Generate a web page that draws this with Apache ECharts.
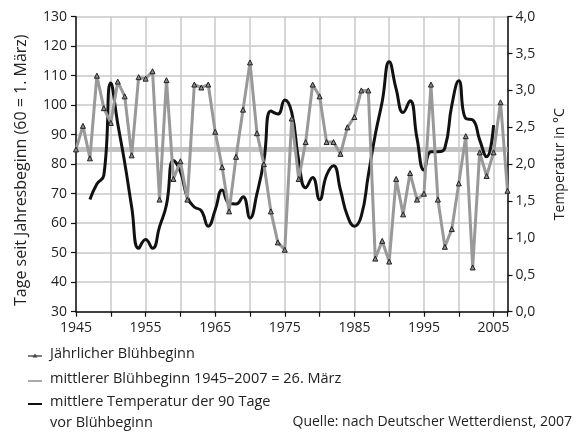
<!DOCTYPE html>
<html>
<head>
<meta charset="utf-8">
<script src="https://cdn.jsdelivr.net/npm/echarts@6/dist/echarts.min.js"></script>
<style>
  html, body { margin: 0; padding: 0; background: #fff; }
  #chart { width: 576px; height: 436px; }
</style>
</head>
<body>
<div id="chart"></div>
<script>
'use strict';
/* Blühbeginn und Temperatur 1945-2007 */

var years = [1945, 1946, 1947, 1948, 1949, 1950, 1951, 1952, 1953, 1954,
  1955, 1956, 1957, 1958, 1959, 1960, 1961, 1962, 1963, 1964,
  1965, 1966, 1967, 1968, 1969, 1970, 1971, 1972, 1973, 1974,
  1975, 1976, 1977, 1978, 1979, 1980, 1981, 1982, 1983, 1984,
  1985, 1986, 1987, 1988, 1989, 1990, 1991, 1992, 1993, 1994,
  1995, 1996, 1997, 1998, 1999, 2000, 2001, 2002, 2003, 2004,
  2005, 2006, 2007];

// Jährlicher Blühbeginn (Tage seit Jahresbeginn)
var bloomDays = [85, 93, 82, 110, 99, 94, 108, 103, 83, 109.5,
  109, 111.5, 68, 108.5, 75, 81, 68, 107, 106, 107,
  91, 79, 64, 82.5, 98.5, 114.5, 90.5, 80, 64, 53.5,
  51, 95.5, 75, 87.5, 107, 103, 87.5, 87.5, 83.5, 92.5,
  96, 105, 105, 48, 54, 47, 75, 63, 77, 68,
  70, 107, 68, 52, 58, 73.5, 89.5, 45, 84, 76,
  84, 101, 71];

// mittlerer Blühbeginn 1945-2007
var meanBloom = 85;

// mittlere Temperatur der 90 Tage vor Blühbeginn, 1947-2005
var tempYears = [1947, 1948, 1949, 1950, 1951, 1952, 1953, 1954, 1955, 1956,
  1957, 1958, 1959, 1960, 1961, 1962, 1963, 1964, 1965, 1966,
  1967, 1968, 1969, 1970, 1971, 1972, 1973, 1974, 1975, 1976,
  1977, 1978, 1979, 1980, 1981, 1982, 1983, 1984, 1985, 1986,
  1987, 1988, 1989, 1990, 1991, 1992, 1993, 1994, 1995, 1996,
  1997, 1998, 1999, 2000, 2001, 2002, 2003, 2004, 2005];
var tempValues = [1.52, 1.73, 1.85, 3.10, 2.55, 2.02, 1.42, 0.86, 0.98, 0.86,
  1.15, 1.45, 2.05, 1.90, 1.55, 1.42, 1.37, 1.16, 1.38, 1.65,
  1.47, 1.46, 1.56, 1.27, 1.60, 2.05, 2.72, 2.68, 2.87, 2.70,
  2.05, 1.68, 1.82, 1.52, 1.85, 1.98, 1.65, 1.30, 1.16, 1.30,
  1.85, 2.40, 2.85, 3.39, 3.02, 2.70, 2.86, 2.35, 1.92, 2.17,
  2.17, 2.22, 2.80, 3.13, 2.62, 2.60, 2.33, 2.10, 2.53];

var legendLabels = ['Jährlicher Blühbeginn', 'mittlerer Blühbeginn 1945–2007 = 26. März',
  'mittlere Temperatur der 90 Tage', 'vor Blühbeginn'];
var sourceLabel = 'Quelle: nach Deutscher Wetterdienst, 2007';

var bloomData = [];
for (var i = 0; i < years.length; i++) {
  bloomData.push([years[i], bloomDays[i]]);
}
var tempData = [];
for (var j = 0; j < tempYears.length; j++) {
  tempData.push([tempYears[j], tempValues[j]]);
}
// horizontal mean line over the full year range
var meanData = [[years[0], meanBloom], [years[years.length - 1], meanBloom]];

var font = 'Open Sans';
var chart = echarts.init(document.getElementById('chart'), null, { renderer: 'canvas' });

var option = {
  animation: false,
  backgroundColor: '#fff',
  textStyle: { fontFamily: font },
  grid: { left: 76, right: 68.5, top: 16.7, bottom: 124.3 },
  xAxis: {
    type: 'value',
    min: 1945,
    max: 2007,
    interval: 5,
    axisLine: { onZero: false, lineStyle: { color: '#111', width: 1.5 } },
    axisTick: { length: 5, lineStyle: { color: '#111', width: 1.2 } },
    axisLabel: {
      color: '#222', fontSize: 14, margin: 9, fontFamily: font,
      formatter: function(v) { return (v - 1945) % 10 === 0 ? String(v) : ''; }
    },
    splitLine: { show: true, lineStyle: { color: '#c8c8c8', width: 1.5 } }
  },
  yAxis: [{
    type: 'value',
    min: 30,
    max: 130,
    interval: 10,
    name: 'Tage seit Jahresbeginn (60 = 1. März)',
    nameLocation: 'middle',
    nameGap: 47,
    nameTextStyle: { color: '#222', fontSize: 16, fontFamily: font, padding: [0, 12, 0, 0] },
    axisLine: { show: true, lineStyle: { color: '#111', width: 1.5 } },
    axisTick: { show: true, length: 5, lineStyle: { color: '#111', width: 1.2 } },
    axisLabel: { color: '#222', fontSize: 14, margin: 9, fontFamily: font },
    splitLine: { show: true, lineStyle: { color: '#c8c8c8', width: 1.5 } }
  }, {
    type: 'value',
    position: 'right',
    min: 0,
    max: 4,
    interval: 0.5,
    name: 'Temperatur in °C',
    nameLocation: 'middle',
    nameGap: 46,
    nameRotate: 90,
    nameTextStyle: { color: '#222', fontSize: 14, fontFamily: font },
    axisLine: { show: true, lineStyle: { color: '#111', width: 1.5 } },
    axisTick: { show: true, length: 5, lineStyle: { color: '#111', width: 1.2 } },
    axisLabel: {
      color: '#222', fontSize: 14, margin: 8, fontFamily: font,
      formatter: function(v) { return v.toFixed(1).replace('.', ','); }
    },
    splitLine: { show: false }
  }],
  series: [{
    name: 'Mittel',
    type: 'line',
    yAxisIndex: 0,
    data: meanData,
    showSymbol: false,
    silent: true,
    lineStyle: { color: '#c4c4c4', width: 5 },
    z: 2
  }, {
    name: 'Temperatur',
    type: 'line',
    yAxisIndex: 1,
    data: tempData,
    smooth: 0.5,
    showSymbol: false,
    lineStyle: { color: '#111', width: 3 },
    z: 3
  }, {
    name: 'Blühbeginn',
    type: 'line',
    yAxisIndex: 0,
    data: bloomData,
    symbol: 'triangle',
    symbolSize: 5,
    itemStyle: { color: '#8a8a8a', borderColor: '#222', borderWidth: 1 },
    lineStyle: { color: '#999', width: 3 },
    z: 4
  }],
  graphic: [
    { type: 'line', shape: { x1: 28, y1: 356, x2: 42, y2: 356 }, style: { stroke: '#555', lineWidth: 1.5 } },
    { type: 'polygon', shape: { points: [[35, 353.5], [32.5, 357.5], [37.5, 357.5]] }, style: { fill: '#444' } },
    { type: 'text', left: 50, top: 346, style: { text: legendLabels[0], fontSize: 14.5, fontFamily: font, fill: '#222' } },
    { type: 'line', shape: { x1: 28, y1: 381, x2: 42, y2: 381 }, style: { stroke: '#aaa', lineWidth: 2 } },
    { type: 'text', left: 50, top: 371, style: { text: legendLabels[1], fontSize: 14.5, fontFamily: font, fill: '#222' } },
    { type: 'line', shape: { x1: 28, y1: 404, x2: 42, y2: 404 }, style: { stroke: '#111', lineWidth: 2 } },
    { type: 'text', left: 50, top: 394, style: { text: legendLabels[2], fontSize: 14.5, fontFamily: font, fill: '#222' } },
    { type: 'text', left: 50, top: 415, style: { text: legendLabels[3], fontSize: 14.5, fontFamily: font, fill: '#222' } },
    { type: 'text', right: 4, top: 415, style: { text: sourceLabel, fontSize: 14, fontFamily: font, fill: '#222' } }
  ]
};

chart.setOption(option);
</script>
</body>
</html>
